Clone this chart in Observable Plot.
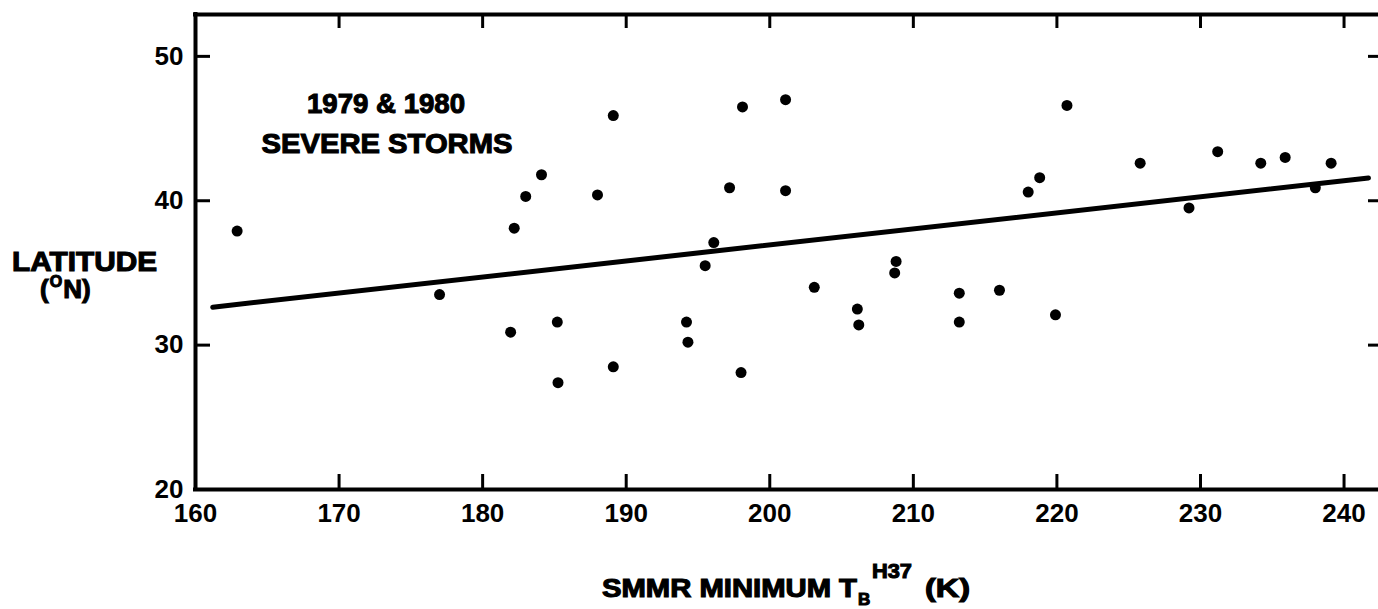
<!DOCTYPE html>
<html>
<head>
<meta charset="utf-8">
<script src="https://cdn.jsdelivr.net/npm/d3@7"></script>
<script src="https://cdn.jsdelivr.net/npm/@observablehq/plot@0.6"></script>
<style>
  html, body { margin: 0; padding: 0; background: #fff; }
  svg { display: block; }
</style>
</head>
<body>
<div id="chart"></div>
<script>
// SMMR minimum brightness temperature TB H37 (K)
const tb = [162.9, 177.0, 181.95, 182.2, 183.0, 184.1, 185.2, 185.25, 188.0, 189.1,
            189.1, 194.2, 194.3, 195.5, 196.1, 197.2, 198.0, 198.1, 201.1, 201.1,
            203.1, 206.1, 206.2, 208.8, 208.7, 213.2, 213.2, 216.0, 218.0, 218.8,
            219.9, 220.7, 225.8, 229.2, 231.2, 234.2, 235.9, 238.0, 239.1];
// Latitude (°N)
const lat = [37.9, 33.5, 30.9, 38.1, 40.3, 41.8, 31.6, 27.4, 40.4, 45.9,
             28.5, 31.6, 30.2, 35.5, 37.1, 40.9, 28.1, 46.5, 47.0, 40.7,
             34.0, 32.5, 31.4, 35.8, 35.0, 33.6, 31.6, 33.8, 40.6, 41.6,
             32.1, 46.6, 42.6, 39.5, 43.4, 42.6, 43.0, 40.9, 42.6];
// Regression line end points
const fitX = [161.2, 241.7];
const fitY = [32.63, 41.57];

const xTicks = [160, 170, 180, 190, 200, 210, 220, 230, 240];
const yTicks = [20, 30, 40, 50];
const yTicksInner = [30, 40, 50];
const xDomain = [160, 242.4];
const yDomain = [20, 52.9];

const W = 1378, H = 609, mL = 195, mT = 14, mB = 120, mR = 0;
const iW = W - mL - mR, iH = H - mT - mB;

const pts = tb.map((x, i) => ({x, y: lat[i]}));
const fit = fitX.map((x, i) => ({x, y: fitY[i]}));

const plot = Plot.plot({
  width: W, height: H,
  marginLeft: mL, marginTop: mT, marginBottom: mB, marginRight: mR,
  style: {fontFamily: "'Liberation Sans', Arial, sans-serif", fontWeight: "bold", fontSize: "26px", background: "white", color: "black"},
  x: {domain: xDomain},
  y: {domain: yDomain},
  marks: [
    Plot.axisX({ticks: xTicks, tickSize: 0, tickPadding: 14, label: null, fontSize: 26, fontWeight: "bold", stroke: "black", strokeWidth: 1.2}),
    Plot.axisY({ticks: yTicks, tickSize: 0, tickPadding: 12, label: null, fontSize: 26, fontWeight: "bold", stroke: "black", strokeWidth: 1.2}),
    // frame (left, bottom, top)
    Plot.ruleX([xDomain[0]], {strokeWidth: 4, strokeLinecap: "square"}),
    Plot.ruleY([yDomain[0]], {strokeWidth: 4, strokeLinecap: "square"}),
    Plot.ruleY([yDomain[1]], {strokeWidth: 4, strokeLinecap: "square"}),
    // inward ticks
    Plot.ruleX(xTicks, {x: d => d, insetBottom: iH - 14, strokeWidth: 3}),
    Plot.ruleX(xTicks, {x: d => d, insetTop: iH - 15, strokeWidth: 3}),
    Plot.ruleY(yTicksInner, {y: d => d, insetRight: iW - 15, strokeWidth: 3}),
    Plot.ruleY(yTicksInner, {y: d => d, insetLeft: iW - 10, strokeWidth: 3}),
    // regression line
    Plot.line(fit, {x: "x", y: "y", stroke: "black", strokeWidth: 5, strokeLinecap: "round"}),
    // storms
    Plot.dot(pts, {x: "x", y: "y", r: 5.5, fill: "black"})
  ]
});

document.getElementById("chart").appendChild(plot);

// text labels with sub/superscripts
const svg = d3.select(plot);
const g = svg.append("g").attr("fill", "black").attr("font-weight", "bold")
  .attr("text-anchor", "start")
  .attr("stroke", "black").attr("stroke-width", 1.1)
  .attr("font-family", "'Liberation Sans', Arial, sans-serif");

// annotation
g.append("text").attr("x", 386).attr("y", 113).attr("text-anchor", "middle")
  .attr("font-size", 28).attr("textLength", 158).attr("lengthAdjust", "spacingAndGlyphs")
  .text("1979 & 1980");
g.append("text").attr("x", 387).attr("y", 153).attr("text-anchor", "middle")
  .attr("font-size", 28).attr("textLength", 251).attr("lengthAdjust", "spacingAndGlyphs")
  .text("SEVERE STORMS");

// y label
g.append("text").attr("x", 12).attr("y", 271)
  .attr("font-size", 27).attr("textLength", 145).attr("lengthAdjust", "spacingAndGlyphs")
  .text("LATITUDE");
const yl2 = g.append("text").attr("x", 40).attr("y", 298).attr("font-size", 26);
yl2.append("tspan").text("(");
yl2.append("tspan").attr("font-size", 16).attr("dy", -11).attr("dx", 1).text("O");
yl2.append("tspan").attr("dy", 11).attr("dx", 1).text("N)");

// x label
g.append("text").attr("x", 602).attr("y", 597)
  .attr("font-size", 25).attr("textLength", 255).attr("lengthAdjust", "spacingAndGlyphs")
  .text("SMMR MINIMUM T");
g.append("text").attr("x", 858).attr("y", 605).attr("font-size", 17).text("B");
g.append("text").attr("x", 872).attr("y", 578)
  .attr("font-size", 21).attr("textLength", 40).attr("lengthAdjust", "spacingAndGlyphs")
  .text("H37");
g.append("text").attr("x", 925).attr("y", 597)
  .attr("font-size", 25).attr("textLength", 45).attr("lengthAdjust", "spacingAndGlyphs")
  .text("(K)");
</script>
</body>
</html>
